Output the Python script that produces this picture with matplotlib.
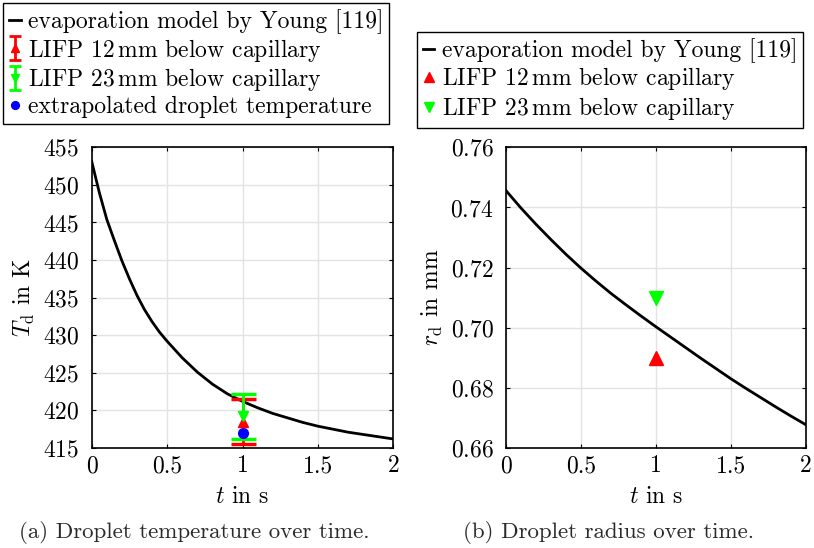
import matplotlib
matplotlib.use('Agg')
import numpy as np
import matplotlib.pyplot as plt
from matplotlib.ticker import FuncFormatter

plt.rcParams['font.family'] = 'cmr10'
plt.rcParams['mathtext.fontset'] = 'cm'
plt.rcParams['axes.formatter.use_mathtext'] = True
plt.rcParams['font.size'] = 17

# model curves
t_model = [0, 0.05, 0.1, 0.15, 0.2, 0.25, 0.3, 0.35, 0.4, 0.45, 0.5,
           0.6, 0.7, 0.8, 0.9, 1.0, 1.1, 1.2, 1.3, 1.4, 1.5, 1.6, 1.7,
           1.8, 1.9, 2.0]
T_model = [453.1, 449.0, 445.4, 442.6, 439.9, 437.5, 435.3, 433.4, 431.8,
           430.4, 429.2, 427.0, 425.1, 423.5, 422.2, 421.2, 420.35, 419.6,
           419.0, 418.4, 417.9, 417.5, 417.1, 416.8, 416.5, 416.2]
t_rad = [0, 0.1, 0.2, 0.3, 0.4, 0.5, 0.6, 0.7, 0.8, 0.9, 1.0, 1.1, 1.2,
         1.3, 1.4, 1.5, 1.6, 1.7, 1.8, 1.9, 2.0]
r_model = [0.7456, 0.7398, 0.7344, 0.7293, 0.7244, 0.7198, 0.7155, 0.7114,
           0.7076, 0.7039, 0.7003, 0.6968, 0.6933, 0.6898, 0.6864, 0.6830,
           0.6798, 0.6767, 0.6736, 0.6706, 0.6677]

# measurements
t_meas = 1.0
T_12, T_12_err = 418.5, 3.0
T_23, T_23_err = 419.2, 3.0
T_extrap = 417.05
r_12 = 0.69
r_23 = 0.71

fig = plt.figure(figsize=(8.14, 5.48), dpi=100)
ax1 = fig.add_axes([0.1127, 0.1825, 0.3705, 0.5487])
ax2 = fig.add_axes([0.6216, 0.1825, 0.3686, 0.5487])

fmt = FuncFormatter(lambda v, p: '%g' % v)

for ax in (ax1, ax2):
    ax.grid(True, color='#e3e3e3', lw=1.0)
    ax.set_axisbelow(True)
    ax.tick_params(direction='in', top=True, right=True, length=3,
                   width=0.8)
    ax.tick_params(axis='x', pad=5)
    ax.tick_params(axis='y', pad=9)
    for s in ax.spines.values():
        s.set_linewidth(1.2)
    ax.set_xlim(0, 2)
    ax.set_xticks([0, 0.5, 1, 1.5, 2])
    ax.xaxis.set_major_formatter(fmt)
    ax.set_xlabel('$t$ in s', labelpad=6)

red = '#ff0000'
green = '#00ff00'
blue = '#0000ff'

l1, = ax1.plot(t_model, T_model, 'k-', lw=2, label='evaporation model by Young [119]')
ax1.errorbar(t_meas, T_12, yerr=T_12_err, fmt='^', color=red,
             ms=7, capsize=9, capthick=2.5, elinewidth=2)
ax1.errorbar(t_meas, T_23, yerr=T_23_err, fmt='v', color=green,
             ms=7, capsize=9, capthick=2.5, elinewidth=2)
p1, = ax1.plot(t_meas, T_extrap, 'o', color=blue, ms=7,
               label='extrapolated droplet temperature')
# small proxies for the legend entries of the error bars
e1 = ax1.errorbar([np.nan], [np.nan], yerr=[1], fmt='^', color=red, ms=8,
                  capsize=4.5, capthick=2, elinewidth=2,
                  label='LIFP 12$\\,$mm below capillary')
e2 = ax1.errorbar([np.nan], [np.nan], yerr=[1], fmt='v', color=green, ms=8,
                  capsize=4.5, capthick=2, elinewidth=2,
                  label='LIFP 23$\\,$mm below capillary')
ax1.set_ylim(415, 455)
ax1.set_yticks(range(415, 456, 5))
ax1.set_ylabel('$T_\\mathrm{d}$ in K')

l2, = ax2.plot(t_rad, r_model, 'k-', lw=2, label='evaporation model by Young [119]')
m1, = ax2.plot(t_meas, r_12, '^', color=red, ms=10,
               label='LIFP 12$\\,$mm below capillary')
m2, = ax2.plot(t_meas, r_23, 'v', color=green, ms=10,
               label='LIFP 23$\\,$mm below capillary')
ax2.set_ylim(0.66, 0.76)
ax2.set_yticks([0.66, 0.68, 0.70, 0.72, 0.74, 0.76])
ax2.set_ylabel('$r_\\mathrm{d}$ in mm')

leg_kw = dict(loc='upper left', fancybox=False, edgecolor='black',
              framealpha=1, handlelength=0.5, handletextpad=0.3,
              borderpad=0.25, labelspacing=0.12, borderaxespad=0)
lg1 = fig.legend(handles=[l1, e1, e2, p1], bbox_to_anchor=(0.0037, 0.9945),
                 markerscale=0.8, **leg_kw)
lg2 = fig.legend(handles=[l2, m1, m2], bbox_to_anchor=(0.512, 0.9416),
                 markerscale=0.75, **leg_kw)
for lg in (lg1, lg2):
    lg.get_frame().set_linewidth(1.0)

fig.text(0.2392, 0.0274, '(a) Droplet temperature over time.',
         ha='center', va='center', fontsize=16.5, color='#2a2a2a')
fig.text(0.7473, 0.0274, '(b) Droplet radius over time.',
         ha='center', va='center', fontsize=16.5, color='#2a2a2a')

fig.savefig('out.png', dpi=100)
